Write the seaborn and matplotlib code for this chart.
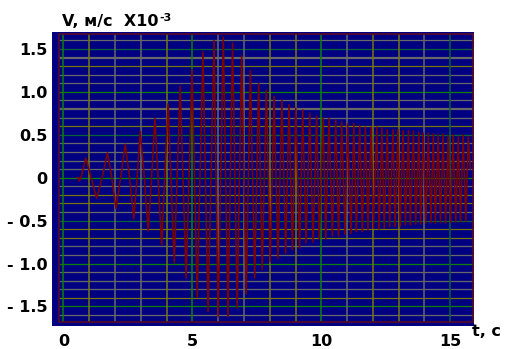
import numpy as np
import pandas as pd
import matplotlib
matplotlib.use('Agg')
import matplotlib.pyplot as plt
import seaborn as sns

# signal (t in s, V in 1e-3 m/s)
t_pts = [0.52, 0.58, 0.62, 0.70, 0.87, 1.08, 1.29, 1.50, 1.71, 1.88, 2.04, 2.22,
         2.40, 2.57, 2.73, 2.86, 2.98, 3.14, 3.29, 3.42, 3.55, 3.81, 4.06, 4.30,
         4.53, 4.76, 4.99, 5.19, 5.41, 5.61, 5.84, 6.00, 6.20, 6.38, 6.56, 6.74,
         6.91, 7.09, 7.25, 7.42, 7.57, 7.71, 7.87, 8.02, 8.17, 8.32, 8.47, 8.62,
         8.75, 8.88, 9.01, 9.16, 9.28, 9.41, 9.55, 9.68, 9.82, 9.92, 10.07, 10.17,
         10.30, 10.43, 10.56, 10.67, 10.79, 10.92, 11.02, 11.15, 11.26, 11.36, 11.49, 11.59,
         11.71, 11.81, 11.93, 12.02, 12.15, 12.24, 12.35, 12.44, 12.56, 12.65, 12.78, 12.86,
         12.97, 13.06, 13.17, 13.26, 13.38, 13.45, 13.57, 13.66, 13.78, 13.85, 13.95, 14.05,
         14.15, 14.25, 14.34, 14.42, 14.53, 14.62, 14.72, 14.82, 14.92, 15.01, 15.11, 15.21,
         15.31, 15.40, 15.50, 15.60, 15.70, 15.77]
v_pts = [0.0, 0.0, -0.04, 0.02, 0.23, 0.0, -0.24, 0.0, 0.29, 0.0, -0.36, 0.0,
         0.39, 0.0, -0.48, 0.0, 0.54, 0.0, -0.62, 0.0, 0.69, -0.78, 0.86, -0.99,
         1.07, -1.17, 1.26, -1.39, 1.47, -1.56, 1.60, -1.62, 1.64, -1.62, 1.57, -1.52,
         1.42, -1.35, 1.25, -1.17, 1.10, -1.07, 1.02, -0.98, 0.95, -0.94, 0.90, -0.88,
         0.85, -0.84, 0.81, -0.82, 0.79, -0.76, 0.75, -0.75, 0.72, -0.71, 0.70, -0.71,
         0.69, -0.68, 0.67, -0.68, 0.65, -0.66, 0.63, -0.65, 0.63, -0.63, 0.61, -0.63,
         0.59, -0.61, 0.59, -0.59, 0.59, -0.60, 0.58, -0.59, 0.56, -0.57, 0.56, -0.57,
         0.56, -0.57, 0.55, -0.55, 0.55, -0.55, 0.54, -0.54, 0.53, -0.54, 0.52, -0.53,
         0.52, -0.52, 0.51, -0.53, 0.50, -0.52, 0.51, -0.53, 0.49, -0.52, 0.50, -0.52,
         0.48, -0.51, 0.50, -0.51, 0.48, 0.10]

x_ticks = [0, 5, 10, 15]
x_labels = ['0', '5', '10', '15']
y_ticks = [1.5, 1.0, 0.5, 0, -0.5, -1.0, -1.5]
y_labels = ['1.5', '1.0', '0.5', '0', '- 0.5', '- 1.0', '- 1.5']

df = pd.DataFrame({'t': t_pts, 'v': v_pts})

sns.set_style('white')
plt.rcParams['font.family'] = ['DejaVu Sans']
plt.rcParams['text.color'] = 'black'

fig = plt.figure(figsize=(5.10, 3.49), dpi=100)
ax = fig.add_axes([52 / 510, 1 - 326 / 349, 422 / 510, 294 / 349])
ax.set_facecolor('#000080')
ax.set_xlim(-0.44, 15.92)
ax.set_ylim(-1.728, 1.698)

# grid: one line per 0.1 on V, one per 1 s on t, coloured like the original
gray, olive, green, teal = '#686868', '#767610', '#0a800a', '#0a6038'
h_cols = {1.6: gray, 1.5: teal, 1.4: gray, 1.3: olive, 1.2: gray, 1.1: gray,
          1.0: green, 0.9: gray, 0.8: gray, 0.7: gray, 0.6: olive, 0.5: teal,
          0.4: gray, 0.3: gray, 0.2: gray, 0.1: gray, 0.0: green, -0.1: gray,
          -0.2: olive, -0.3: olive, -0.4: gray, -0.5: teal, -0.6: olive,
          -0.7: olive, -0.8: gray, -0.9: gray, -1.0: green, -1.1: gray,
          -1.2: gray, -1.3: gray, -1.4: olive, -1.5: green, -1.6: gray}
for yv, c in h_cols.items():
    lw = 1.6 if yv in (0.8, 1.4) else 0.9
    ax.hlines(yv, -0.155, 15.92, colors=c, lw=lw, zorder=1)
v_cols = [green, olive, gray, gray, olive, green, gray, gray, olive, olive,
          green, gray, olive, olive, gray, teal]
for i, c in enumerate(v_cols):
    ax.vlines(i, -1.685, 1.675, colors=c, lw=1.1, zorder=1)

# frame
fc = '#5a0a28'
ax.vlines(-0.155, -1.685, 1.675, colors=fc, lw=1.2, zorder=2)
ax.hlines([1.675, -1.685], -0.155, 15.92, colors=fc, lw=1.2, zorder=2)
ax.vlines(15.9, -1.685, 1.675, colors=fc, lw=1.2, zorder=2)

sns.lineplot(data=df, x='t', y='v', sort=False, estimator=None,
             color='#800000', lw=1.1, ax=ax, zorder=3)

for s in ax.spines.values():
    s.set_visible(False)
ax.set_xlabel('')
ax.set_ylabel('')
ax.set_xticks(x_ticks)
ax.set_xticklabels(x_labels)
ax.set_yticks(y_ticks)
ax.set_yticklabels(y_labels)
ax.tick_params(length=0, labelsize=11.5, colors='black', labelcolor='black')
ax.tick_params(axis='y', pad=3.5)
ax.tick_params(axis='x', pad=5.5)
for lab in ax.get_xticklabels() + ax.get_yticklabels():
    lab.set_fontweight('bold')

title = fig.text(62 / 510, 1 - 22 / 349, 'V, м/с  X10', fontsize=11.5,
                 fontweight='bold', color='black', ha='left', va='center')
ax.annotate('-3', xy=(1, 0.5), xycoords=title, xytext=(0.5, -0.5),
            textcoords='offset points', fontsize=8, fontweight='bold',
            color='black', ha='left', va='bottom')
fig.text(472 / 510, 1 - 332 / 349, 't, c', fontsize=11.5, fontweight='bold',
         color='black', ha='left', va='center')

fig.savefig('out.png', dpi=100)
